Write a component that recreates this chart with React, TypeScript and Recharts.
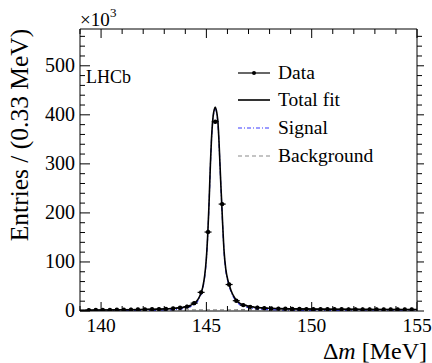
import React from 'react'
import {
  ComposedChart, Line, Scatter, XAxis, YAxis, Customized,
} from 'recharts'

const FONT = "'Liberation Serif', 'DejaVu Serif', serif"

// frame of the plot area (px)
const LEFT = 80
const RIGHT = 417
const TOP = 29
const BOTTOM = 311

// data points, bin centres (MeV) and entries (x10^3)
const dataX = [
  139.42, 139.75, 140.08, 140.42, 140.75, 141.08, 141.42, 141.75, 142.08, 142.42,
  142.75, 143.08, 143.42, 143.75, 144.08, 144.42, 144.75, 145.08, 145.42, 145.75,
  146.08, 146.42, 146.75, 147.08, 147.42, 147.75, 148.08, 148.42, 148.75, 149.08,
  149.42, 149.75, 150.08, 150.42, 150.75, 151.08, 151.42, 151.75, 152.08, 152.42,
  152.75, 153.08, 153.42, 153.75, 154.08, 154.42, 154.75,
]
const dataY = [
  1.8, 2.0, 2.2, 2.3, 2.5, 2.6, 2.8, 3.0, 3.2, 3.5,
  3.9, 4.4, 5.2, 6.5, 9, 16, 38, 161, 386, 218,
  54, 21, 12, 8.5, 6.8, 5.8, 5.2, 4.8, 4.5, 4.2,
  4.0, 3.9, 3.8, 3.7, 3.6, 3.5, 3.5, 3.4, 3.4, 3.3,
  3.3, 3.2, 3.2, 3.1, 3.1, 3.0, 3.0,
]

// fit curves
const fitX = [
  139.0, 140.0, 141.0, 142.0, 142.4, 142.9, 143.4, 143.9, 144.1, 144.4,
  144.5, 144.67, 144.82, 144.92, 145.0, 145.07, 145.12, 145.15, 145.19, 145.24,
  145.29, 145.32, 145.37, 145.42, 145.47, 145.52, 145.55, 145.6, 145.65, 145.69,
  145.72, 145.77, 145.84, 145.92, 146.02, 146.08, 146.17, 146.34, 146.42, 146.62,
  146.92, 147.42, 147.92, 148.42, 149, 150, 151, 152, 153, 154, 155,
]
const totalFit = [
  1.6, 2.1, 2.6, 3.2, 3.5, 4.1, 5.2, 7.6, 9.5, 15,
  18, 29, 47, 72, 108, 161, 212, 248, 298, 348,
  383, 397, 410, 416, 410, 397, 384, 345, 295, 255,
  228, 180, 122, 86, 63, 54, 42, 27, 22, 15,
  10.5, 7, 5.6, 4.9, 4.4, 3.9, 3.6, 3.4, 3.2, 3.1, 3.0,
]
const signalFit = [
  0.4, 0.5, 0.7, 1.1, 1.3, 1.8, 2.8, 5.1, 7.0, 12.5,
  15.5, 26.4, 44.4, 69.4, 105.4, 158.4, 209.4, 245.4, 295.4, 345.4,
  380.4, 394.4, 407.4, 413.4, 407.4, 394.4, 381.4, 342.4, 292.4, 252.4,
  225.4, 177.4, 119.4, 83.4, 60.4, 51.4, 39.4, 24.4, 19.4, 12.3,
  7.8, 4.3, 2.8, 2.1, 1.6, 1.0, 0.7, 0.5, 0.2, 0.1, 0.0,
]
const backgroundFit = [
  1.2, 1.6, 1.9, 2.1, 2.2, 2.3, 2.4, 2.5, 2.5, 2.5,
  2.5, 2.6, 2.6, 2.6, 2.6, 2.6, 2.6, 2.6, 2.6, 2.6,
  2.6, 2.6, 2.6, 2.6, 2.6, 2.6, 2.6, 2.6, 2.6, 2.6,
  2.6, 2.6, 2.6, 2.6, 2.6, 2.6, 2.6, 2.6, 2.6, 2.7,
  2.7, 2.7, 2.8, 2.8, 2.8, 2.9, 2.9, 2.9, 3.0, 3.0, 3.0,
]

const xTicks = [139, 140, 141, 142, 143, 144, 145, 146, 147, 148, 149, 150, 151, 152, 153, 154, 155]
const xMajor = [140, 145, 150, 155]
const yTicks = [0, 20, 40, 60, 80, 100, 120, 140, 160, 180, 200, 220, 240, 260, 280, 300, 320, 340, 360, 380, 400, 420, 440, 460, 480, 500, 520, 540, 560]
const yMajor = [0, 100, 200, 300, 400, 500]

const legendLabels = ['Data', 'Total fit', 'Signal', 'Background']

const dataRows = dataX.map((x, i) => ({ x, y: dataY[i] }))
const fitRows = fitX.map((x, i) => ({
  x, total: totalFit[i], signal: signalFit[i], bg: backgroundFit[i],
}))

const serif = { fontFamily: FONT }

function BottomTick({ x, payload }: any) {
  const major = xMajor.includes(payload.value)
  return (
    <g>
      <line x1={x} x2={x} y1={BOTTOM} y2={BOTTOM - (major ? 9 : 5)} stroke="#000" />
      {major && (
        <text x={x} y={332} textAnchor="middle" fontSize={19.5} style={serif} fill="#000">
          {payload.value}
        </text>
      )}
    </g>
  )
}

function TopTick({ x, payload }: any) {
  const major = xMajor.includes(payload.value)
  return <line x1={x} x2={x} y1={TOP} y2={TOP + (major ? 9 : 5)} stroke="#000" />
}

function LeftTick({ y, payload }: any) {
  const major = yMajor.includes(payload.value)
  return (
    <g>
      <line x1={LEFT} x2={LEFT + (major ? 10 : 5)} y1={y} y2={y} stroke="#000" />
      {major && (
        <text x={75} y={y + 6} textAnchor="end" fontSize={20} style={serif} fill="#000">
          {payload.value}
        </text>
      )}
    </g>
  )
}

function RightTick({ y, payload }: any) {
  const major = yMajor.includes(payload.value)
  return <line x1={RIGHT} x2={RIGHT + (major ? 7 : 5)} y1={y} y2={y} stroke="#000" />
}

function DataMarker({ cx, cy }: any) {
  if (cx == null || cy == null) return null
  return (
    <g>
      <line x1={cx - 3.5} x2={cx + 3.5} y1={cy} y2={cy} stroke="#000" strokeWidth={1.2} />
      <line x1={cx} x2={cx} y1={cy - 1.8} y2={cy + 1.8} stroke="#000" strokeWidth={1.2} />
      <circle cx={cx} cy={cy} r={2.2} fill="#000" />
    </g>
  )
}

function Annotations() {
  const lx1 = 238
  const lx2 = 270
  const rowY = [73, 100, 128, 156]
  return (
    <g style={serif} fill="#000">
      <text x={80} y={26} fontSize={19} style={serif}>×10</text>
      <text x={110} y={17} fontSize={13} style={serif}>3</text>
      <text x={86} y={83} fontSize={18} style={serif}>LHCb</text>
      <text
        x={28} y={135} fontSize={25.5} textAnchor="middle" style={serif}
        transform="rotate(-90 28 135)"
      >
        Entries / (0.33 MeV)
      </text>
      <text x={427} y={359} fontSize={24} textAnchor="end" style={serif}>
        Δ<tspan fontStyle="italic">m</tspan> [MeV]
      </text>
      {legendLabels.map((lab, i) => {
        const y = rowY[i]
        return (
          <g key={lab}>
            {i === 0 && (
              <>
                <line x1={lx1} x2={lx2} y1={y} y2={y} stroke="#000" strokeWidth={1.2} />
                <circle cx={(lx1 + lx2) / 2} cy={y} r={2} fill="#000" />
              </>
            )}
            {i === 1 && <line x1={lx1} x2={lx2} y1={y} y2={y} stroke="#000" strokeWidth={1.6} />}
            {i === 2 && (
              <line x1={lx1} x2={lx2} y1={y} y2={y} stroke="#3a3aff" strokeWidth={1.2} strokeDasharray="4 2 1 2" />
            )}
            {i === 3 && (
              <line x1={lx1} x2={lx2} y1={y} y2={y} stroke="#8a8a8a" strokeWidth={1.2} strokeDasharray="4 3" />
            )}
            <text x={278} y={y + 6} fontSize={19.5} style={serif}>{lab}</text>
          </g>
        )
      })}
    </g>
  )
}

export default function App() {
  return (
    <div style={{ position: 'absolute', left: 0, top: 0, width: 432, height: 363, background: '#fff' }}>
      <ComposedChart width={432} height={363} data={fitRows} margin={{ top: 0, right: 0, bottom: 0, left: 0 }}>
        <XAxis
          xAxisId="b" type="number" dataKey="x" domain={[139, 155]} allowDataOverflow
          ticks={xTicks} interval={0} tick={<BottomTick />} tickLine={false}
          axisLine={{ stroke: '#000' }} height={363 - BOTTOM}
        />
        <XAxis
          xAxisId="t" orientation="top" type="number" dataKey="x" domain={[139, 155]} allowDataOverflow
          ticks={xTicks} interval={0} tick={<TopTick />} tickLine={false}
          axisLine={{ stroke: '#000' }} height={TOP}
        />
        <YAxis
          yAxisId="l" type="number" domain={[0, 575]} allowDataOverflow
          ticks={yTicks} interval={0} tick={<LeftTick />} tickLine={false}
          axisLine={{ stroke: '#000' }} width={LEFT}
        />
        <YAxis
          yAxisId="r" orientation="right" type="number" domain={[0, 575]} allowDataOverflow
          ticks={yTicks} interval={0} tick={<RightTick />} tickLine={false}
          axisLine={{ stroke: '#000' }} width={432 - RIGHT}
        />
        <Line
          xAxisId="t" yAxisId="r" type="monotone" dataKey="bg" stroke="#8a8a8a" strokeWidth={1.2}
          strokeDasharray="4 3" dot={false} isAnimationActive={false}
        />
        <Line
          xAxisId="b" yAxisId="l" type="monotone" dataKey="signal" stroke="#3a3aff" strokeWidth={1.2}
          strokeDasharray="4 2 1 2" dot={false} isAnimationActive={false}
        />
        <Line
          xAxisId="b" yAxisId="l" type="monotone" dataKey="total" stroke="#000" strokeWidth={1.6}
          dot={false} isAnimationActive={false}
        />
        <Scatter
          xAxisId="b" yAxisId="l" data={dataRows} dataKey="y" shape={<DataMarker />}
          isAnimationActive={false}
        />
        <Customized component={<Annotations />} />
      </ComposedChart>
    </div>
  )
}
